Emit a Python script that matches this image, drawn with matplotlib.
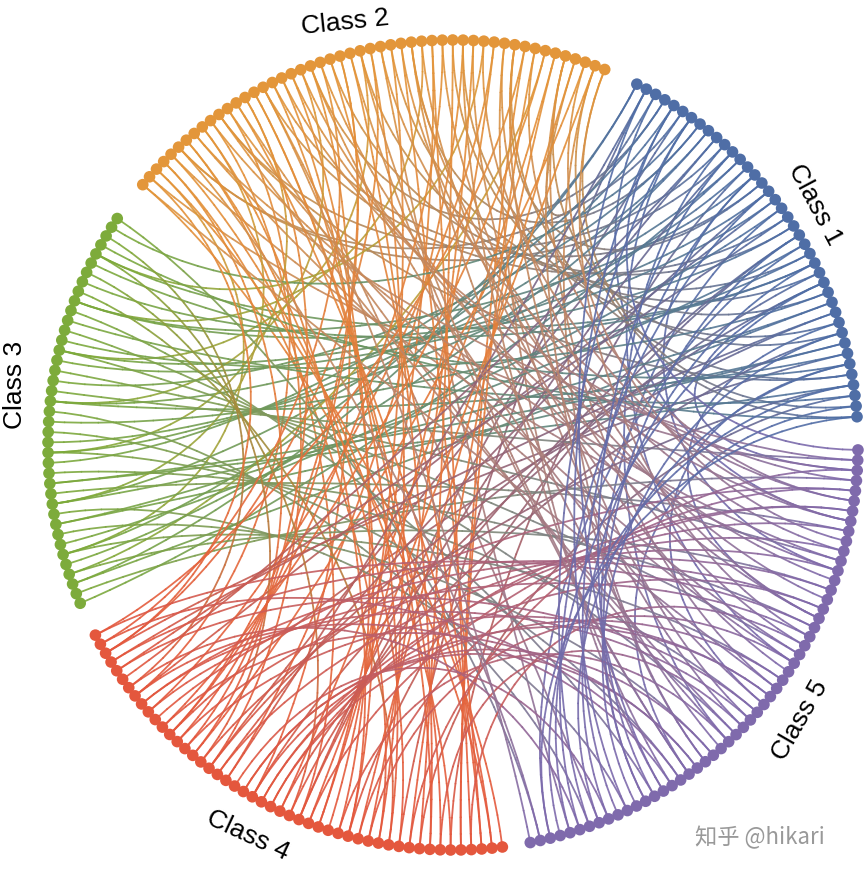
import numpy as np
import matplotlib.pyplot as plt
from matplotlib.collections import LineCollection
from matplotlib.colors import to_rgb

plt.rcParams['font.family'] = ['Liberation Sans', 'Noto Sans CJK SC', 'DejaVu Sans']

# classes: name, node count, start/end angle (deg, clockwise run), colour
class_names = ["Class 1", "Class 2", "Class 3", "Class 4", "Class 5"]
class_counts = [40, 50, 40, 48, 55]
class_start = [63, 140, 203, -83, -0.7]
class_end = [4, 68, 146, -152, -79]
class_colors = ["#4f6ea6", "#e3963a", "#7dab3b", "#e4573d", "#7f6aac"]

# one outgoing link per node, target = global node index
# global order: C1 0-39, C2 40-89, C3 90-129, C4 130-177, C5 178-232
targets_c1 = [95, 140, 185, 60, 100, 150, 200, 70, 105, 160, 210, 45, 110, 135, 190, 80, 115, 170, 220, 55,
              120, 145, 230, 65, 125, 155, 180, 75, 92, 165, 195, 85, 98, 175, 205, 50, 102, 138, 215, 88]
targets_c2 = [131, 180, 95, 142, 190, 5, 150, 200, 100, 160, 10, 170, 210, 105, 137, 225, 15, 145, 185, 110,
              155, 195, 20, 165, 215, 115, 175, 228, 25, 132, 188, 120, 148, 198, 30, 158, 208, 125, 168, 218,
              35, 134, 183, 93, 152, 203, 2, 162, 213, 38]
targets_c3 = [12, 181, 0, 192, 8, 202, 18, 212, 22, 222, 28, 186, 32, 196, 3, 206, 13, 216, 23, 226,
              33, 179, 7, 189, 17, 199, 27, 209, 37, 219, 14, 141, 24, 151, 34, 161, 39, 171, 6, 231]
targets_c4 = [42, 52, 62, 72, 82, 44, 54, 64, 74, 84, 46, 56, 66, 76, 86, 48, 58, 68, 78, 88,
              11, 21, 31, 184, 194, 204, 214, 224, 1, 16, 26, 36, 43, 53, 63, 73, 83, 182, 197, 207,
              217, 227, 9, 19, 29, 41, 61, 81]
targets_c5 = [4, 47, 139, 57, 144, 67, 149, 77, 154, 87, 159, 49, 164, 59, 169, 69, 174, 79, 177, 89,
              133, 51, 143, 71, 153, 40, 163, 60, 173, 80, 136, 50, 146, 70, 156, 85, 166, 65, 176, 75,
              1, 11, 21, 31, 4, 14, 24, 34, 6, 16, 26, 36, 39, 45, 55]

# class order in the global index (C1, C2, C3, C4, C5)
order = [0, 1, 2, 3, 4]
targets = targets_c1 + targets_c2 + targets_c3 + targets_c4 + targets_c5

cx, cy, R = 453, 445, 405

xs, ys, cols = [], [], []
for k in order:
    ang = np.radians(np.linspace(class_start[k], class_end[k], class_counts[k]))
    xs.extend(cx + R * np.cos(ang))
    ys.extend(cy - R * np.sin(ang))
    cols.extend([to_rgb(class_colors[k])] * class_counts[k])
xs, ys, cols = np.array(xs), np.array(ys), np.array(cols)

fig = plt.figure(figsize=(8.65, 8.72), dpi=100)
ax = fig.add_axes([0, 0, 1, 1])
ax.set_xlim(0, 865)
ax.set_ylim(872, 0)
ax.axis("off")

t = np.linspace(0, 1, 40)[:, None]
segs, segcols = [], []
for i, j in enumerate(targets):
    p0 = np.array([xs[i], ys[i]])
    p3 = np.array([xs[j], ys[j]])
    c = np.array([cx, cy])
    p1 = c + 0.5 * (p0 - c)
    p2 = c + 0.5 * (p3 - c)
    pts = ((1 - t) ** 3) * p0 + 3 * ((1 - t) ** 2) * t * p1 + 3 * (1 - t) * t ** 2 * p2 + t ** 3 * p3
    for s in range(len(pts) - 1):
        segs.append(pts[s:s + 2])
        f = s / (len(pts) - 2)
        segcols.append((1 - f) * cols[i] + f * cols[j])

ax.add_collection(LineCollection(segs, colors=segcols, linewidths=1.3, alpha=0.9, capstyle="round"))
ax.scatter(xs, ys, s=70, c=cols, zorder=3, linewidths=0)

labels = [("Class 1", 815, 205, -62), ("Class 2", 345, 22, 6), ("Class 3", 15, 385, 90),
          ("Class 4", 248, 835, -25), ("Class 5", 800, 720, 60)]
for txt, x, y, rot in labels:
    ax.text(x, y, txt, fontsize=19, rotation=rot, ha="center", va="center")

ax.text(760, 838, "知乎 @hikari", fontsize=16, color="#999999", ha="center", va="center",
        family=['Noto Sans CJK SC', 'DejaVu Sans'])

fig.savefig("out.png", dpi=100)
